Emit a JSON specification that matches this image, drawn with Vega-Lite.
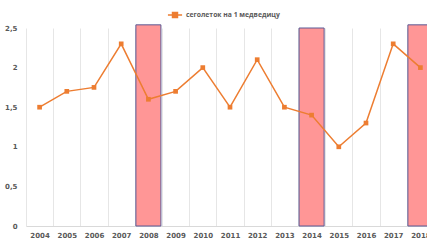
{
  "$schema": "https://vega.github.io/schema/vega-lite/v6.json",
  "autosize": {"type": "none"},
  "width": 408,
  "height": 198,
  "padding": {"left": 26, "top": 28, "right": 0, "bottom": 15},
  "background": "white",
  "config": {
    "view": {"stroke": null},
    "font": "Open Sans",
    "axisY": {
      "title": null,
      "grid": false,
      "domain": false,
      "ticks": false,
      "labelOverlap": false,
      "labelFlush": false,
      "labelFont": "DejaVu Sans",
      "labelFontSize": 7,
      "labelFontWeight": "bold",
      "labelColor": "#595959",
      "labelPadding": 9
    }
  },
  "datasets": {
    "cubs": [
      {"year": "2004", "cubs": 1.5},
      {"year": "2005", "cubs": 1.7},
      {"year": "2006", "cubs": 1.75},
      {"year": "2007", "cubs": 2.3},
      {"year": "2008", "cubs": 1.6},
      {"year": "2009", "cubs": 1.7},
      {"year": "2010", "cubs": 2.0},
      {"year": "2011", "cubs": 1.5},
      {"year": "2012", "cubs": 2.1},
      {"year": "2013", "cubs": 1.5},
      {"year": "2014", "cubs": 1.4},
      {"year": "2015", "cubs": 1.0},
      {"year": "2016", "cubs": 1.3},
      {"year": "2017", "cubs": 2.3},
      {"year": "2018", "cubs": 2.0}
    ],
    "bars": [
      {"year": "2008", "h": 2.54},
      {"year": "2014", "h": 2.5},
      {"year": "2018", "h": 2.54}
    ]
  },
  "encoding": {
    "x": {
      "field": "year",
      "type": "ordinal",
      "scale": {"domain": ["2004","2005","2006","2007","2008","2009","2010","2011","2012","2013","2014","2015","2016","2017","2018"], "paddingInner": 0, "paddingOuter": 0},
      "axis": {
        "title": null,
        "labelAngle": 0,
        "tickBand": "extent",
        "grid": true,
        "gridColor": "#e6e6e6",
        "gridWidth": 1,
        "ticks": false,
        "domainColor": "#d9d9d9",
        "labelFont": "DejaVu Sans",
        "labelFontSize": 7,
        "labelFontWeight": "bold",
        "labelColor": "#595959",
        "labelPadding": 5,
        "labelOverlap": false,
        "labelFlush": false
      }
    }
  },
  "layer": [
    {
      "data": {"name": "bars"},
      "mark": {"type": "bar", "width": {"band": 0.92}, "fill": "#ff9696", "stroke": "#5a5a96", "strokeWidth": 1, "clip": false},
      "encoding": {
        "y": {
          "field": "h",
          "type": "quantitative",
          "scale": {"domain": [0, 2.5], "nice": false},
          "axis": {
            "values": [0, 0.5, 1, 1.5, 2, 2.5],
            "labelExpr": "replace(format(datum.value, '~g'), '.', ',')"
          }
        }
      }
    },
    {
      "data": {"name": "cubs"},
      "mark": {"type": "line", "strokeWidth": 1.5, "point": {"shape": "square", "size": 22, "filled": true}},
      "encoding": {
        "y": {
          "field": "cubs",
          "type": "quantitative",
          "axis": {
            "values": [0, 0.5, 1, 1.5, 2, 2.5],
            "labelExpr": "replace(format(datum.value, '~g'), '.', ',')"
          }
        },
        "color": {
          "datum": "сеголеток на 1 медведицу",
          "type": "nominal",
          "scale": {"range": ["#ed7d31"]},
          "legend": {
            "title": null,
            "orient": "none",
            "legendX": 141,
            "legendY": -21,
            "symbolType": "M-1,0H1M-0.35,-0.35H0.35V0.35H-0.35Z",
            "symbolSize": 200,
            "symbolStrokeWidth": 1.5,
            "labelFont": "Open Sans",
            "labelFontSize": 6.8,
            "labelFontWeight": "bold",
            "labelColor": "#595959",
            "labelOffset": 3
          }
        }
      }
    }
  ]
}
